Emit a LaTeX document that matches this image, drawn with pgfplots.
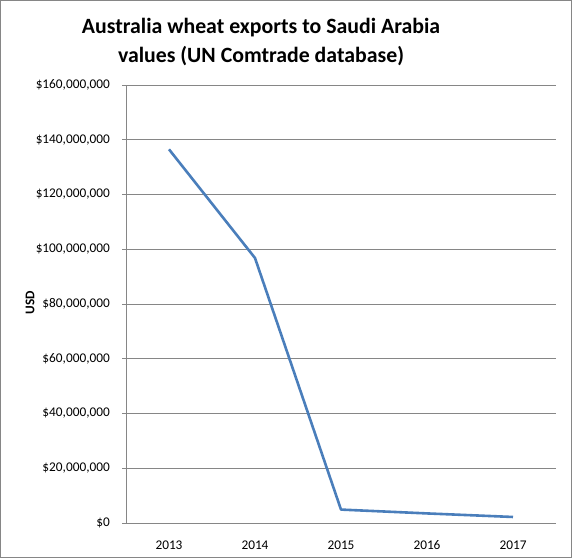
\documentclass[border=0pt]{standalone}
\usepackage{pgfplots}
\pgfplotsset{compat=1.18}
\usepackage{fontspec}
\setmainfont{Carlito}
\definecolor{linebl}{RGB}{74,126,187}
\definecolor{gridg}{RGB}{134,134,134}
\definecolor{frameg}{RGB}{134,134,134}
\begin{document}
\begin{tikzpicture}
\useasboundingbox (0,0) rectangle (572bp,558bp);
\draw[frameg, line width=1bp] (0.5bp,0.5bp) rectangle (571.5bp,557.5bp);
\begin{axis}[
  at={(126bp,35bp)}, anchor=south west,
  scale only axis, width=430bp, height=438bp,
  xmin=-0.5, xmax=4.5, ymin=0, ymax=160,
  xtick={0,1,2,3,4},
  xticklabels={2013,2014,2015,2016,2017},
  ytick={0,20,40,60,80,100,120,140,160},
  yticklabels={{\$0},{\$20,000,000},{\$40,000,000},{\$60,000,000},{\$80,000,000},{\$100,000,000},{\$120,000,000},{\$140,000,000},{\$160,000,000}},
  axis x line*=bottom, axis y line*=left,
  axis line style={gridg, line width=0.75bp},
  x axis line style={-}, y axis line style={-},
  major x tick style={draw=none},
  ytick style={gridg, line width=0.75bp},
  tick align=outside, major tick length=4bp,
  ymajorgrids, grid style={gridg, line width=0.75bp},
  tick label style={font=\fontsize{13.3bp}{15bp}\selectfont, text=black},
  yticklabel style={anchor=east, inner sep=0pt, xshift=-12bp},
  xticklabel style={anchor=center, inner sep=0pt, yshift=-18bp},
  clip=false,
]
\addplot[linebl, line width=2.6bp, line join=round] coordinates {
(0,136.5) (1,96.8) (2,4.9) (3,3.5) (4,2.2)
};
\end{axis}
\node[rotate=90, font=\bfseries\fontsize{13.3bp}{15bp}\selectfont] at (30bp,255bp) {USD};
\node[align=center, inner sep=0pt, font=\bfseries\fontsize{21.8bp}{29bp}\selectfont] at (261bp,516bp) {Australia wheat exports to Saudi Arabia\\values (UN Comtrade database)};
\end{tikzpicture}
\end{document}
